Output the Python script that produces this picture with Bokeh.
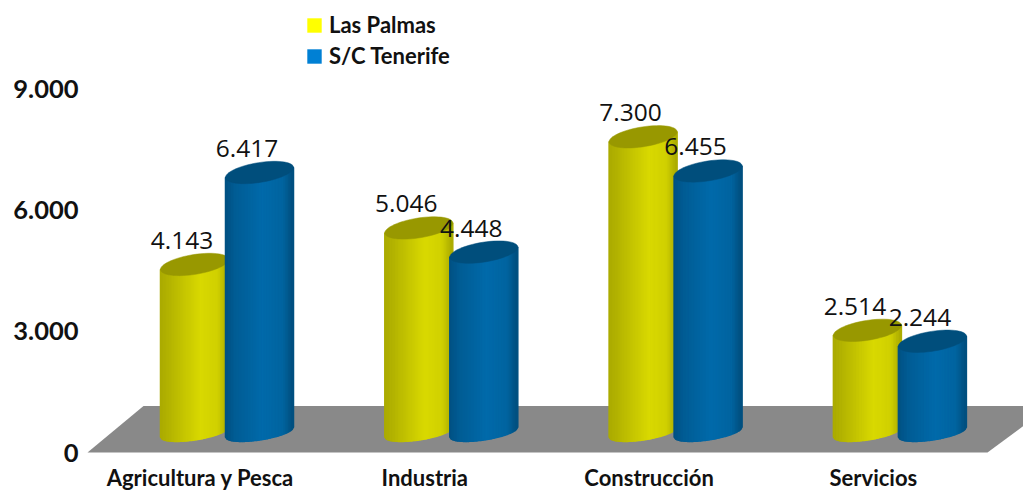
import numpy as np
from bokeh.plotting import figure
from bokeh.models import FixedTicker, Legend, LegendItem
from bokeh.core.properties import value
from bokeh.embed import file_html
from bokeh.resources import INLINE

categories = ["Agricultura y Pesca", "Industria", "Construcción", "Servicios"]
las_palmas = [4143, 5046, 7300, 2514]
tenerife = [6417, 4448, 6455, 2244]
y_ticks = [0, 3000, 6000, 9000]
y_tick_labels = ["0", "3.000", "6.000", "9.000"]
series_names = ["Las Palmas", "S/C Tenerife"]

# layout of the picture, in pixels of the photographed picture
FIG_W, FIG_H = 1023, 492
LEFT = 84
PX_X0, PX_DX = 226.0, 224.3      # x of group 0 and group spacing
PX_Y0, PX_PER_UNIT = 452.0, 0.04044
FRAME_L, FRAME_R = LEFT, FIG_W
FRAME_T, FRAME_B = 0, FIG_H


def dx(px):
    return px / PX_DX


def dy(px):
    return px / PX_PER_UNIT


def xd(px):
    return (px - PX_X0) / PX_DX


def yd(px):
    return (PX_Y0 - px) / PX_PER_UNIT


p = figure(width=FIG_W, height=FIG_H, output_backend="svg", toolbar_location=None,
           x_range=(xd(FRAME_L), xd(FRAME_R)), y_range=(yd(FRAME_B), yd(FRAME_T)),
           min_border_left=LEFT, min_border_bottom=0,
           min_border_top=0, min_border_right=0, outline_line_color=None,
           background_fill_color="white", border_fill_color="white")
p.grid.visible = False

# floor of the 3D scene
floor_x = [xd(87), xd(143), xd(1050), xd(987)]
floor_y = [yd(452), yd(405.5), yd(405.5), yd(452)]
p.patch(floor_x, floor_y, fill_color="#898989", line_color=None)

BASE = dy(PX_Y0 - 431.5)       # height of the bar base above the axis zero
HALF_W = 34.0
TILT = 5.0
MINOR = 10.0
MINOR_BASE = 8.0
N_STRIP = 44


def shade(stops, t):
    pos = [s[0] for s in stops]
    c = [np.interp(t, pos, [s[1][k] for s in stops]) for k in range(3)]
    return "#%02x%02x%02x" % tuple(int(round(v)) for v in c)


def cylinders(vals, offset_px, stops, cap_color):
    xs, ys, cols = [], [], []
    cap_x, cap_y = [], []
    for i, v in enumerate(vals):
        cx = i + dx(offset_px)
        top = BASE + v
        edges = np.linspace(-1, 1, N_STRIP + 1)
        for a, b in zip(edges[:-1], edges[1:]):
            # lower front arc of the base, tilted line at the top
            low_a = BASE + dy(TILT * a - MINOR_BASE * np.sqrt(1 - a * a))
            low_b = BASE + dy(TILT * b - MINOR_BASE * np.sqrt(1 - b * b))
            xs.append([cx + dx(HALF_W * a), cx + dx(HALF_W * b), cx + dx(HALF_W * b), cx + dx(HALF_W * a)])
            ys.append([low_a, low_b, top + dy(TILT * b), top + dy(TILT * a)])
            cols.append(shade(stops, (a + b) / 2 * 0.5 + 0.5))
        t = np.linspace(0, 2 * np.pi, 60)
        cap_x.append(list(cx + dx(HALF_W * np.cos(t))))
        cap_y.append(list(top + dy(TILT * np.cos(t) + MINOR * np.sin(t))))
    p.patches(xs, ys, fill_color=cols, line_color=cols, line_width=1.5)
    p.patches(cap_x, cap_y, fill_color=cap_color, line_color=cap_color, line_width=0.5)


yellow_stops = [(0, (170, 170, 0)), (0.12, (178, 178, 0)), (0.6, (217, 217, 0)), (0.85, (208, 208, 0)), (1, (170, 170, 0))]
blue_stops = [(0, (0, 80, 130)), (0.15, (0, 92, 148)), (0.55, (0, 106, 170)), (0.85, (0, 100, 160)), (1, (0, 78, 125))]

cylinders(las_palmas, -32, yellow_stops, "#989800")
cylinders(tenerife, 33, blue_stops, "#004e7c")

# value labels
lab_x, lab_y, lab_t = [], [], []
for vals, off in ((las_palmas, -32), (tenerife, 33)):
    for i, v in enumerate(vals):
        lab_x.append(i + dx(off - 12.5))
        lab_y.append(BASE + v + dy(24))
        lab_t.append(f"{v:,}".replace(",", "."))
p.text(x=lab_x, y=lab_y, text=lab_t, text_font=value("Open Sans"), text_font_size="24.5px",
       text_color="#111111", text_align="center", text_baseline="middle")

# axes
p.yaxis.ticker = FixedTicker(ticks=y_ticks)
p.yaxis.major_label_overrides = dict(zip(y_ticks, y_tick_labels))
p.yaxis.axis_line_color = None
p.yaxis.major_tick_line_color = None
p.yaxis.minor_tick_line_color = None
p.yaxis.major_tick_out = 0
p.yaxis.major_tick_in = 0
p.yaxis.major_label_text_font = "Lato"
p.yaxis.major_label_text_font_style = "bold"
p.yaxis.major_label_text_font_size = "25.5px"
p.yaxis.major_label_text_color = "#111111"
p.yaxis.major_label_standoff = 6

# category labels sit too close to the page edge for an axis panel
p.xaxis.visible = False
label_x = [i - dx(26) for i in range(len(categories))]
p.text(x=label_x, y=[yd(477)] * len(categories), text=categories,
       text_font=value("Lato"), text_font_style="bold", text_font_size="22px",
       text_color="#111111", text_align="center", text_baseline="middle")

# legend
nan = float("nan")
r1 = p.vbar(x=[0], top=[nan], width=0.1, fill_color="#ffff00", line_color=None)
r2 = p.vbar(x=[0], top=[nan], width=0.1, fill_color="#0080d4", line_color=None)
legend = Legend(items=[LegendItem(label=series_names[0], renderers=[r1]),
                       LegendItem(label=series_names[1], renderers=[r2])],
                location=(221, 423), orientation="vertical",
                glyph_width=18, glyph_height=18, label_standoff=6,
                spacing=4, padding=0, margin=0,
                border_line_color=None, background_fill_color=None,
                label_text_font="Lato", label_text_font_style="bold",
                label_text_font_size="22px", label_text_color="#111111")
p.add_layout(legend, "center")

open("out.html", "w").write(file_html(p, INLINE))
